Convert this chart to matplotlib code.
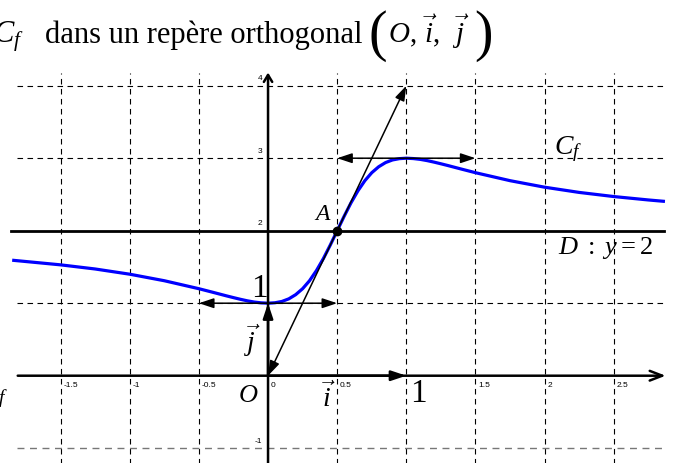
import matplotlib
matplotlib.use("Agg")
import matplotlib.pyplot as plt

plt.rcParams['mathtext.fontset'] = 'custom'
plt.rcParams['mathtext.rm'] = 'Liberation Serif'
plt.rcParams['mathtext.it'] = 'Liberation Serif:italic'
plt.rcParams['mathtext.bf'] = 'Liberation Serif:bold'

# points of the curve C_f
xs = [-1.85, -1.5, -1.25, -1.0, -0.75, -0.5, -0.4, -0.3, -0.25, -0.2, -0.15, -0.1, -0.05,
      0.0, 0.05, 0.1, 0.15, 0.2, 0.25, 0.3, 0.35, 0.4, 0.45, 0.5, 0.55, 0.6, 0.65, 0.7,
      0.75, 0.8, 0.85, 0.9, 0.95, 1.0, 1.05, 1.1, 1.15, 1.2, 1.25, 1.3, 1.4, 1.5, 1.75,
      2.0, 2.25, 2.5, 2.75, 2.87]
ys = [1.593, 1.529, 1.472, 1.400, 1.310, 1.200, 1.151, 1.101, 1.077, 1.054, 1.033, 1.016, 1.005,
      1.000, 1.006, 1.024, 1.060, 1.118, 1.200, 1.310, 1.450, 1.615, 1.802, 2.000, 2.198, 2.385,
      2.550, 2.690, 2.800, 2.882, 2.940, 2.976, 2.994, 3.000, 2.995, 2.984, 2.967, 2.946, 2.923,
      2.899, 2.849, 2.800, 2.690, 2.600, 2.528, 2.471, 2.424, 2.404]

A = (0.5, 2.0)
tan_A = [(0.0, 0.0), (1.0, 4.0)]
tan_min = [(-0.5, 1.0), (0.5, 1.0)]
tan_max = [(0.5, 3.0), (1.5, 3.0)]
D_y = 2

x_ticks = [-1.5, -1, -0.5, 0, 0.5, 1.5, 2, 2.5]
x_tick_labels = ["-1.5", "-1", "-0.5", "0", "0.5", "1.5", "2", "2.5"]
y_ticks = [-1, 2, 3, 4]
y_tick_labels = ["-1", "2", "3", "4"]
grid_x = [-1.5, -1, -0.5, 0.5, 1, 1.5, 2, 2.5]
grid_y = [1, 3, 4]

fig = plt.figure(figsize=(6.77, 4.63), dpi=100)
ax = fig.add_axes([0, 0, 1, 1])
ax.set_xlim(-1.938, 2.957)
ax.set_ylim(-1.204, 5.182)
ax.axis('off')

# dashed grid
for gx in grid_x:
    ax.plot([gx, gx], [-1.3, 4.17], color='black', lw=0.8, ls=(0, (5, 4)))
for gy in grid_y:
    ax.plot([-1.815, 2.878], [gy, gy], color='black', lw=0.8, ls=(0, (5, 4)))
ax.plot([-1.815, 2.878], [-1, -1], color='#777777', lw=1.0, ls=(0, (5, 4)))

# axes with open arrows
ax.annotate('', xy=(2.895, 0), xytext=(-1.83, 0),
            arrowprops=dict(arrowstyle='->,head_length=0.9,head_width=0.35', lw=1.8, color='black'))
ax.annotate('', xy=(0, 4.22), xytext=(0, -1.3),
            arrowprops=dict(arrowstyle='->,head_length=0.5,head_width=0.3', lw=1.8, color='black'))

# line D
ax.plot([-1.86, 2.86], [D_y, D_y], color='black', lw=2.0)

# curve
ax.plot(xs, ys, color='#0000ff', lw=2.3, solid_capstyle='butt')

# tangents
arrow_kw = dict(arrowstyle='<|-|>,head_length=0.9,head_width=0.3', lw=1.1, color='black',
                shrinkA=0, shrinkB=0)
for p, q in (tan_A, tan_min, tan_max):
    ax.annotate('', xy=q, xytext=p, arrowprops=arrow_kw)

# unit vectors i and j
vec_kw = dict(arrowstyle='-|>,head_length=0.9,head_width=0.3', lw=1.8, color='black',
              shrinkA=0, shrinkB=0)
ax.annotate('', xy=(1, 0), xytext=(0, 0), arrowprops=vec_kw)
ax.annotate('', xy=(0, 1), xytext=(0, 0), arrowprops=vec_kw)

ax.plot(*A, 'o', color='black', ms=6)

# small graduations
for t, lab in zip(x_ticks, x_tick_labels):
    ax.text(t + 0.02, -0.08, lab, fontsize=6, family='Liberation Sans', ha='left', va='top')
for t, lab in zip(y_ticks, y_tick_labels):
    ax.text(-0.04, t + 0.05, lab, fontsize=6, family='Liberation Sans', ha='right', va='bottom')

serif = 'Liberation Serif'
ax.text(0.398, 2.24, '$A$', fontsize=17, ha='center', va='center')
ax.text(-0.065, 1.2, '1', fontsize=24, family=serif, ha='center', va='center')
ax.text(1.085, -0.25, '1', fontsize=24, family=serif, ha='center', va='center')
ax.text(-0.145, -0.27, '$O$', fontsize=19, ha='center', va='center')
ax.text(0.434, -0.3, r'$\vec{i}$', fontsize=20, ha='center', va='center')
ax.text(-0.116, 0.48, r'$\vec{j}$', fontsize=20, ha='center', va='center')
ax.text(2.17, 3.12, '$C_f$', fontsize=20, ha='center', va='center')
ax.text(2.44, 1.76, r'$D\ :\ y = 2$', fontsize=19, ha='center', va='center')
ax.text(-1.878, -0.27, '$C_f$', fontsize=20, ha='right', va='center')

# heading
fig.text(24 / 677, 1 - 43 / 463, '$C_f$', fontsize=22, ha='right', va='baseline')
fig.text(45 / 677, 1 - 43 / 463, 'dans un repère orthogonal', fontsize=22, family=serif,
         ha='left', va='baseline')
fig.text(368 / 677, 1 - 36 / 463, '(', fontsize=40, family=serif, ha='left', va='center')
fig.text(388 / 677, 1 - 43 / 463, r'$O,\,\vec{i},\;\;\vec{j}$', fontsize=21, ha='left', va='baseline')
fig.text(474 / 677, 1 - 36 / 463, ')', fontsize=40, family=serif, ha='left', va='center')

fig.savefig('out.png', dpi=100)
